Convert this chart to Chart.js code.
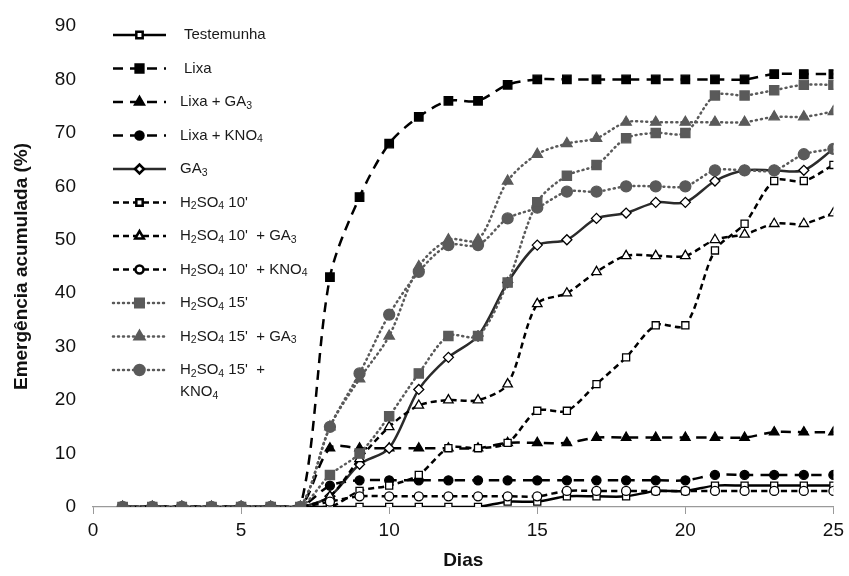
<!DOCTYPE html>
<html>
<head>
<meta charset="utf-8">
<script src="https://cdn.jsdelivr.net/npm/chart.js@4"></script>
<style>
  html, body { margin: 0; padding: 0; background: #fff; }
  #wrap { width: 849px; height: 576px; }
</style>
</head>
<body>
<div id="wrap"><canvas id="chart" width="849" height="576"></canvas></div>
<script>
// data
const days = [1,2,3,4,5,6,7,8,9,10,11,12,13,14,15,16,17,18,19,20,21,22,23,24,25];
const seriesNames = ["Testemunha", "Lixa", "Lixa + GA{3}", "Lixa + KNO{4}", "GA{3}",
  "H{2}SO{4} 10'", "H{2}SO{4} 10'  + GA{3}", "H{2}SO{4} 10'  + KNO{4}",
  "H{2}SO{4} 15'", "H{2}SO{4} 15'  + GA{3}", "H{2}SO{4} 15'  +|KNO{4}"];
const testemunha = [0,0,0,0,0,0,0,0,0,0,0,0,0,1,1,2,2,2,3,3,4,4,4,4,4];
const lixa       = [0,0,0,0,0,0,0,43,58,68,73,76,76,79,80,80,80,80,80,80,80,80,81,81,81];
const lixaGA3    = [0,0,0,0,0,0,0,11,11,11,11,11,11,12,12,12,13,13,13,13,13,13,14,14,14];
const lixaKNO4   = [0,0,0,0,0,0,0,4,5,5,5,5,5,5,5,5,5,5,5,5,6,6,6,6,6];
const ga3        = [0,0,0,0,0,0,0,2,8,11,22,28,32,42,49,50,54,55,57,57,61,63,63,63,67];
const h10        = [0,0,0,0,0,0,0,0,3,4,6,11,11,12,18,18,23,28,34,34,48,53,61,61,64];
const h10GA3     = [0,0,0,0,0,0,0,2,9,15,19,20,20,23,38,40,44,47,47,47,50,51,53,53,55];
const h10KNO4    = [0,0,0,0,0,0,0,1,2,2,2,2,2,2,2,3,3,3,3,3,3,3,3,3,3];
const h15        = [0,0,0,0,0,0,0,6,10,17,25,32,32,42,57,62,64,69,70,70,77,77,78,79,79];
const h15GA3     = [0,0,0,0,0,0,0,15,24,32,45,50,50,61,66,68,69,72,72,72,72,72,73,73,74];
const h15KNO4    = [0,0,0,0,0,0,0,15,25,36,44,49,49,54,56,59,59,60,60,60,63,63,63,66,67];
const xTicks = [0, 5, 10, 15, 20, 25];
const yTicks = [0, 10, 20, 30, 40, 50, 60, 70, 80, 90];

const allValues = [testemunha, lixa, lixaGA3, lixaKNO4, ga3, h10, h10GA3, h10KNO4, h15, h15GA3, h15KNO4];

const BLACK = '#000000';
const GRAY = '#5a5a5a';
const DARK = '#2b2b2b';
const LONG = [10, 7];
const SHORT = [6, 4];
const DOT = [1, 4];

// look of each series
const looks = [
  { color: BLACK, dash: [], width: 2.5, style: 'rect', r: 5, fill: '#fff' },
  { color: BLACK, dash: LONG, width: 2.5, style: 'rect', r: 6, fill: BLACK },
  { color: BLACK, dash: LONG, width: 2.5, style: 'triangle', r: 5.5, fill: BLACK },
  { color: BLACK, dash: LONG, width: 2.5, style: 'circle', r: 4.5, fill: BLACK },
  { color: DARK, dash: [], width: 2.5, style: 'rectRot', r: 5, fill: '#fff' },
  { color: BLACK, dash: SHORT, width: 2.5, style: 'rect', r: 5, fill: '#fff' },
  { color: BLACK, dash: SHORT, width: 2.5, style: 'triangle', r: 5.5, fill: '#fff' },
  { color: BLACK, dash: SHORT, width: 2.5, style: 'circle', r: 4.5, fill: '#fff' },
  { color: GRAY, dash: DOT, width: 2.5, style: 'rect', r: 6.5, fill: GRAY },
  { color: GRAY, dash: DOT, width: 2.5, style: 'triangle', r: 6, fill: GRAY },
  { color: GRAY, dash: DOT, width: 2.5, style: 'circle', r: 5.5, fill: GRAY }
];

const datasets = allValues.map((vals, i) => {
  const lk = looks[i];
  return {
    label: seriesNames[i].replace(/[{}|]/g, ' ').replace(/\s+/g, ' '),
    data: days.map((d, k) => ({ x: d, y: vals[k] })),
    borderColor: lk.color,
    borderWidth: lk.width,
    borderDash: lk.dash,
    borderCapStyle: lk.dash === DOT ? 'round' : 'butt',
    tension: 0.3,
    pointStyle: lk.style,
    pointRadius: lk.r,
    pointBorderWidth: 1.3,
    pointBorderColor: lk.fill === '#fff' ? BLACK : lk.color,
    pointBackgroundColor: lk.fill,
    order: i === 8 ? -20 : -i
  };
});

// text with {sub} subscripts
function drawRich(ctx, text, x, y) {
  const parts = text.split(/(\{[^}]*\})/);
  parts.forEach(p => {
    if (!p) return;
    if (p[0] === '{') {
      const s = p.slice(1, -1);
      ctx.font = '10.5px "Liberation Sans", Arial, sans-serif';
      ctx.fillText(s, x, y + 4);
      x += ctx.measureText(s).width;
    } else {
      ctx.font = '15px "Liberation Sans", Arial, sans-serif';
      ctx.fillText(p, x, y);
      x += ctx.measureText(p).width;
    }
  });
}

const sideLegend = {
  id: 'sideLegend',
  afterDraw(chart) {
    const ctx = chart.ctx;
    ctx.save();
    chart.data.datasets.forEach((ds, i) => {
      const lk = looks[i];
      const y = 35 + i * 33.5;
      ctx.beginPath();
      ctx.setLineDash(lk.dash);
      ctx.lineCap = lk.dash === DOT ? 'round' : 'butt';
      ctx.lineWidth = lk.width;
      ctx.strokeStyle = lk.color;
      ctx.moveTo(113, y);
      ctx.lineTo(166, y);
      ctx.stroke();
      ctx.setLineDash([]);
      ctx.fillStyle = lk.fill;
      ctx.strokeStyle = lk.fill === '#fff' ? BLACK : lk.color;
      Chart.helpers.drawPoint(ctx, { pointStyle: lk.style, radius: lk.r - 0.5, rotation: 0, borderWidth: 1.3 }, 139.5, y);
      ctx.fillStyle = '#1a1a1a';
      ctx.textBaseline = 'middle';
      const lines = seriesNames[i].split('|');
      const tx = i < 2 ? 184 : 180;
      lines.forEach((ln, k) => drawRich(ctx, ln, tx, y + k * 22));
    });
    ctx.restore();
  }
};

new Chart(document.getElementById('chart'), {
  type: 'line',
  data: { datasets },
  options: {
    responsive: false,
    animation: false,
    layout: { padding: { top: 26, right: 14, bottom: 0, left: 0 } },
    plugins: { legend: { display: false }, tooltip: { enabled: false } },
    scales: {
      x: {
        type: 'linear',
        min: 0, max: 25,
        afterBuildTicks: s => { s.ticks = xTicks.map(v => ({ value: v })); },
        afterFit: s => { s.height = 69; },
        border: { display: true, color: '#9a9a9a', width: 1.2 },
        grid: { display: true, drawOnChartArea: false, drawTicks: true, tickLength: 7, color: '#9a9a9a' },
        ticks: { color: '#111', padding: 5, font: { family: '"Liberation Sans", Arial', size: 19 } },
        title: { display: true, text: 'Dias', color: '#111', padding: { top: 5 },
                 font: { family: '"Liberation Sans", Arial', size: 19, weight: 'bold' } }
      },
      y: {
        type: 'linear',
        min: 0, max: 90,
        afterBuildTicks: s => { s.ticks = yTicks.map(v => ({ value: v })); },
        afterFit: s => { s.width = 93; },
        border: { display: false },
        grid: { display: false },
        ticks: { color: '#111', padding: 9, font: { family: '"Liberation Sans", Arial', size: 19 } },
        title: { display: true, text: 'Emergência acumulada (%)', color: '#111', padding: { top: 10, bottom: 6 },
                 font: { family: '"Liberation Sans", Arial', size: 19, weight: 'bold' } }
      }
    }
  },
  plugins: [sideLegend]
});
</script>
</body>
</html>
